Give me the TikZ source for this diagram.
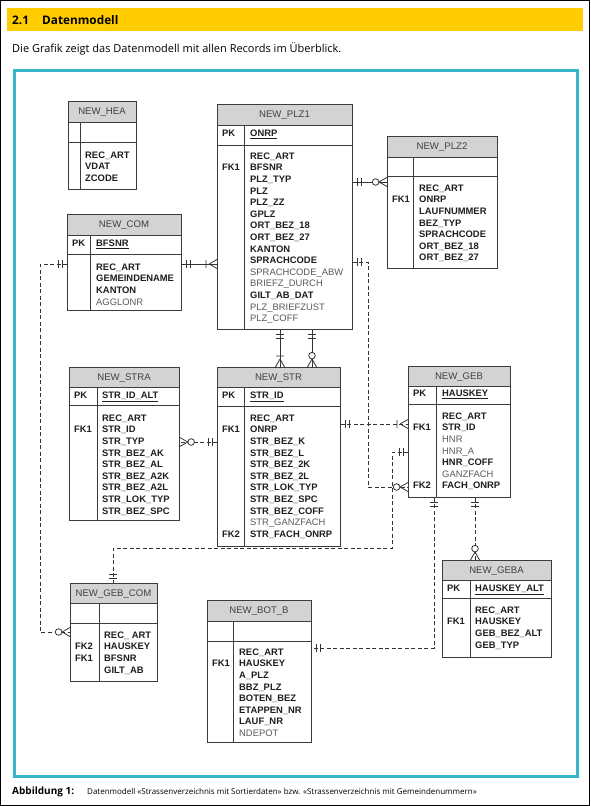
\documentclass[tikz,border=0pt]{standalone}
\usepackage{fontspec}
\setmainfont{Liberation Sans}
\newfontfamily\docfont{Open Sans}
\usetikzlibrary{decorations.markings}
\definecolor{hdryellow}{HTML}{FFCC00}
\definecolor{frameteal}{HTML}{36B5C9}
\definecolor{hdrgray}{HTML}{D3D3D3}
\definecolor{tabline}{HTML}{3C3C3C}
\definecolor{txtdark}{HTML}{1E1E1E}
\definecolor{txtgray}{HTML}{5A5A5A}
\definecolor{titlegray}{HTML}{404040}
\definecolor{conn}{HTML}{333333}
\newcommand\fb[1]{{\bfseries\color{txtdark}#1}}
\newcommand\fr[1]{{\color{txtgray}#1}}
% #1 name, #2 x1, #3 y1, #4 x2, #5 y2, #6 header bottom, #7 key row bottom, #8 divider x, #9 title
\newcommand\ertab[9]{%
  \fill[hdrgray] (#2,#3) rectangle (#4,#6);
  \draw[tabline, line width=0.8pt] (#2,#6) -- (#4,#6) (#2,#7) -- (#4,#7) (#8,#6) -- (#8,#5);
  \node[tabbox, minimum width={(#4-#2)*1pt}, minimum height={(#5-#3)*1pt}, anchor=north west] (#1) at (#2,#3) {};
  \node[titletext, anchor=base] (#1-title) at ({(#2+#4)/2},{(#3+#6)/2+3.4}) {#9};
}
\newcommand\flist[4]{%
  \foreach \ftxt [count=\fidx] in {#4} {\node[fld] (#1-\fidx) at (#2,{#3+(\fidx-1)*11.6}) {\ftxt};}
}
\begin{document}
\begin{tikzpicture}[x=1pt,y=-1pt,
  fld/.style={anchor=base west, inner sep=0pt, font=\fontsize{9.4}{11}\selectfont},
  titletext/.style={inner sep=0pt, font=\fontsize{9.6}{11}\selectfont, text=titlegray},
  tabbox/.style={draw=tabline, line width=0.8pt, inner sep=0pt},
  cn/.style={draw=conn, line width=0.8pt},
  dcn/.style={cn, dash pattern=on 4pt off 2.5pt},
  ce/.style={draw=conn, solid, line width=0.8pt},
  mOneS/.style={postaction={decorate,decoration={markings,mark=at position 0 with {\draw[ce] (5pt,-4pt)--(5pt,4pt) (9pt,-4pt)--(9pt,4pt);}}}},
  mOneE/.style={postaction={decorate,decoration={markings,mark=at position 1 with {\draw[ce] (-5pt,-4pt)--(-5pt,4pt) (-9pt,-4pt)--(-9pt,4pt);}}}},
  mManyE/.style={postaction={decorate,decoration={markings,mark=at position 1 with {\draw[ce] (-8pt,0pt)--(0pt,4.5pt) (-8pt,0pt)--(0pt,-4.5pt) (-11pt,-4pt)--(-11pt,4pt);}}}},
  mZmE/.style={postaction={decorate,decoration={markings,mark=at position 1 with {\draw[ce] (-8pt,0pt)--(0pt,4.5pt) (-8pt,0pt)--(0pt,-4.5pt); \draw[ce, fill=white] (-11.4pt,0pt) circle (3.3pt);}}}},
]
\useasboundingbox (0,0) rectangle (590,806);
\fill[white] (0,0) rectangle (590,806);
\draw[black, line width=1.2pt] (0.6,0.6) rectangle (589.4,805.4);
% header
\fill[hdryellow] (7,8) rectangle (583,31);
\node[anchor=base west, inner sep=0pt, font=\docfont\bfseries\fontsize{11.8}{13}\selectfont] (secnum) at (12,24) {2.1};
\node[anchor=base west, inner sep=0pt, font=\docfont\bfseries\fontsize{11.8}{13}\selectfont] (secname) at (42,24) {Datenmodell};
\node[anchor=base west, inner sep=0pt, font=\docfont\fontsize{11}{13}\selectfont] (intro) at (12,52) {Die Grafik zeigt das Datenmodell mit allen Records im Überblick.};
\draw[frameteal, line width=3pt] (14.5,70.5) rectangle (577.5,776.5);
\node[anchor=base west, inner sep=0pt, font=\docfont\bfseries\fontsize{10}{12}\selectfont] (caplabel) at (12,794.5) {Abbildung 1:};
\node[anchor=base west, inner sep=0pt, font=\docfont\fontsize{8}{10}\selectfont] (captext) at (87,794.5) {Datenmodell «Strassenverzeichnis mit Sortierdaten» bzw. «Strassenverzeichnis mit Gemeindenummern»};

% NEW_HEA
\ertab{hea}{68}{101}{136}{189}{122}{142}{80}{NEW\_HEA}
\flist{heaf}{85}{158.3}{\fb{REC\_ART},\fb{VDAT},\fb{ZCODE}}

% NEW_PLZ1
\ertab{plz1}{217}{104}{352}{329}{125}{145}{244}{NEW\_PLZ1}
\node[fld] (plz1-pk) at (222,136.3) {\fb{PK}};
\node[fld] (plz1-pkn) at (250,136.3) {\fb{\underline{ONRP}}};
\node[fld] (plz1-fk1) at (222,170.9) {\fb{FK1}};
\flist{plz1f}{250}{159.3}{\fb{REC\_ART},\fb{BFSNR},\fb{PLZ\_TYP},\fb{PLZ},\fb{PLZ\_ZZ},\fb{GPLZ},\fb{ORT\_BEZ\_18},\fb{ORT\_BEZ\_27},\fb{KANTON},\fb{SPRACHCODE},\fr{SPRACHCODE\_ABW},\fr{BRIEFZ\_DURCH},\fb{GILT\_AB\_DAT},\fr{PLZ\_BRIEFZUST},\fr{PLZ\_COFF}}

% NEW_PLZ2
\ertab{plz2}{387}{136}{497}{268}{157}{176}{413}{NEW\_PLZ2}
\node[fld] (plz2-fk1) at (392,202.9) {\fb{FK1}};
\flist{plz2f}{419}{191.3}{\fb{REC\_ART},\fb{ONRP},\fb{LAUFNUMMER},\fb{BEZ\_TYP},\fb{SPRACHCODE},\fb{ORT\_BEZ\_18},\fb{ORT\_BEZ\_27}}

% NEW_COM
\ertab{com}{67}{214}{181}{310}{235}{254}{90}{NEW\_COM}
\node[fld] (com-pk) at (72,246.3) {\fb{PK}};
\node[fld] (com-pkn) at (96,246.3) {\fb{\underline{BFSNR}}};
\flist{comf}{96}{270.3}{\fb{REC\_ART},\fb{GEMEINDENAME},\fb{KANTON},\fr{AGGLONR}}

% NEW_STRA
\ertab{stra}{69}{367}{179}{520}{387}{405}{97}{NEW\_STRA}
\node[fld] (stra-pk) at (74,398.3) {\fb{PK}};
\node[fld] (stra-pkn) at (102,398.3) {\fb{\underline{STR\_ID\_ALT}}};
\node[fld] (stra-fk1) at (74,432.9) {\fb{FK1}};
\flist{straf}{102}{421.3}{\fb{REC\_ART},\fb{STR\_ID},\fb{STR\_TYP},\fb{STR\_BEZ\_AK},\fb{STR\_BEZ\_AL},\fb{STR\_BEZ\_A2K},\fb{STR\_BEZ\_A2L},\fb{STR\_LOK\_TYP},\fb{STR\_BEZ\_SPC}}

% NEW_STR
\ertab{str}{217}{367}{340}{546}{387}{406}{244}{NEW\_STR}
\node[fld] (str-pk) at (222,398.3) {\fb{PK}};
\node[fld] (str-pkn) at (250,398.3) {\fb{\underline{STR\_ID}}};
\node[fld] (str-fk1) at (222,432.9) {\fb{FK1}};
\node[fld] (str-fk2) at (222,537.3) {\fb{FK2}};
\flist{strf}{250}{421.3}{\fb{REC\_ART},\fb{ONRP},\fb{STR\_BEZ\_K},\fb{STR\_BEZ\_L},\fb{STR\_BEZ\_2K},\fb{STR\_BEZ\_2L},\fb{STR\_LOK\_TYP},\fb{STR\_BEZ\_SPC},\fb{STR\_BEZ\_COFF},\fr{STR\_GANZFACH},\fb{STR\_FACH\_ONRP}}

% NEW_GEB
\ertab{geb}{408}{366}{510}{497}{386}{404}{436}{NEW\_GEB}
\node[fld] (geb-pk) at (413,396.3) {\fb{PK}};
\node[fld] (geb-pkn) at (442,396.3) {\fb{\underline{HAUSKEY}}};
\node[fld] (geb-fk1) at (413,430.9) {\fb{FK1}};
\node[fld] (geb-fk2) at (413,488.9) {\fb{FK2}};
\flist{gebf}{442}{419.3}{\fb{REC\_ART},\fb{STR\_ID},\fr{HNR},\fr{HNR\_A},\fb{HNR\_COFF},\fr{GANZFACH},\fb{FACH\_ONRP}}

% NEW_GEBA
\ertab{geba}{442}{560}{551}{657}{580}{598}{470}{NEW\_GEBA}
\node[fld] (geba-pk) at (447,591.3) {\fb{PK}};
\node[fld] (geba-pkn) at (475,591.3) {\fb{\underline{HAUSKEY\_ALT}}};
\node[fld] (geba-fk1) at (447,624.9) {\fb{FK1}};
\flist{gebaf}{475}{613.3}{\fb{REC\_ART},\fb{HAUSKEY},\fb{GEB\_BEZ\_ALT},\fb{GEB\_TYP}}

% NEW_GEB_COM
\ertab{gebcom}{70}{583}{157}{681}{603}{623}{99}{NEW\_GEB\_COM}
\node[fld] (gebcom-fk2) at (75,649.9) {\fb{FK2}};
\node[fld] (gebcom-fk1) at (75,661.5) {\fb{FK1}};
\flist{gebcomf}{104}{638.3}{\fb{REC\_ ART},\fb{HAUSKEY},\fb{BFSNR},\fb{GILT\_AB}}

% NEW_BOT_B
\ertab{botb}{207}{600}{311}{742}{621}{641}{233}{NEW\_BOT\_B}
\node[fld] (botb-fk1) at (212,666.9) {\fb{FK1}};
\flist{botbf}{239}{655.3}{\fb{REC\_ART},\fb{HAUSKEY},\fb{A\_PLZ},\fb{BBZ\_PLZ},\fb{BOTEN\_BEZ},\fb{ETAPPEN\_NR},\fb{LAUF\_NR},\fr{NDEPOT}}

% connectors
\draw[cn, mOneS, mZmE] (plz1.east |- 0,182) -- (plz2.west |- 0,182);
\draw[cn, mOneS, mManyE] (com.east |- 0,264) -- (plz1.west |- 0,264);
\draw[cn, mOneS, mManyE] (plz1.south -| 280,0) -- (str.north -| 280,0);
\draw[cn, mOneS, mZmE] (plz1.south -| 312,0) -- (str.north -| 312,0);
\draw[dcn, mOneS, mZmE] (str.west |- 0,442) -- (stra.east |- 0,442);
\draw[dcn, mOneS, mManyE] (str.east |- 0,424) -- (geb.west |- 0,424);
\draw[dcn, mOneS, mZmE] (plz1.east |- 0,262) -| (368,487) -- (geb.west |- 0,487);
\draw[dcn, mOneS, mOneE] (geb.west |- 0,452) -| (392,548) -| (gebcom.north -| 113,0);
\draw[dcn, mOneS, mZmE] (com.west |- 0,264) -| (40,632) -- (gebcom.west |- 0,632);
\draw[dcn, mOneS, mOneE] (geb.south -| 434,0) |- (botb.east |- 0,648);
\draw[dcn, mOneS, mZmE] (geb.south -| 475,0) -- (geba.north -| 475,0);
\end{tikzpicture}
\end{document}
